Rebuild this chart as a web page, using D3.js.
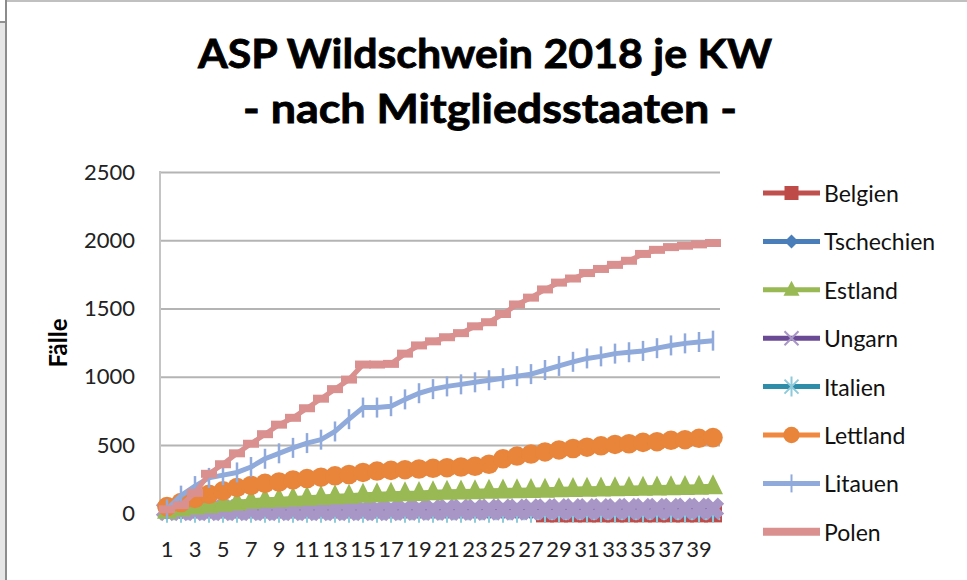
<!DOCTYPE html>
<html>
<head>
<meta charset="utf-8">
<script src="https://cdn.jsdelivr.net/npm/d3@7"></script>
<style>
  body { margin: 0; background: #fff; }
  svg { display: block; }
</style>
</head>
<body>
<script>
// Kalenderwochen 1..40
const weeks = [1,2,3,4,5,6,7,8,9,10,11,12,13,14,15,16,17,18,19,20,
               21,22,23,24,25,26,27,28,29,30,31,32,33,34,35,36,37,38,39,40];
const tickWeeks = [1,3,5,7,9,11,13,15,17,19,21,23,25,27,29,31,33,35,37,39];
const yTicks = [0, 500, 1000, 1500, 2000, 2500];

// kumulierte Fälle je KW
const belgien = [null,null,null,null,null,null,null,null,null,null,
                 null,null,null,null,null,null,null,null,null,null,
                 null,null,null,null,null,null,null,0,0,0,
                 0,0,0,0,0,0,0,0,0,0];
const tschechien = [2,2,3,3,3,3,3,3,3,3,3,3,3,3,3,3,3,3,3,3,
                    3,3,3,3,3,3,3,3,3,3,3,3,3,3,3,3,3,3,3,3];
const estland = [20,35,50,60,70,80,92,100,104,110,114,120,126,130,136,140,144,148,150,155,
                 158,160,162,165,168,170,172,174,176,178,180,182,184,186,188,190,192,194,196,198];
const ungarn = [25,25,25,25,25,25,25,25,25,25,25,25,25,25,25,25,25,26,26,26,
                27,27,27,28,28,28,29,29,30,30,30,31,31,32,32,33,33,34,34,35];
const italien = [5,5,5,5,5,5,5,5,5,5,5,5,5,5,5,5,5,5,5,5,
                 5,5,5,5,5,5,5,5,5,5,5,5,5,5,5,5,5,5,5,5];
const lettland = [50,80,110,140,165,190,205,220,230,245,255,265,275,285,300,310,315,320,325,330,
                  335,340,345,360,400,420,435,450,465,475,485,495,505,510,520,525,535,540,550,555];
const litauen = [30,130,200,260,280,300,340,400,440,480,515,540,600,690,775,775,785,835,880,910,
                 930,945,960,975,990,1005,1020,1050,1080,1110,1135,1150,1170,1180,1190,1210,1230,1245,1255,1265];
const polen = [30,60,150,290,360,440,510,580,650,700,770,840,910,980,1090,1090,1095,1170,1230,1260,
               1290,1320,1370,1400,1460,1530,1580,1640,1690,1720,1760,1790,1820,1850,1900,1930,1950,1960,1970,1980];

// z = Zeichenreihenfolge im Plot
const series = [
  {name: "Belgien",    values: belgien,    line: "#C0504D", marker: "square",   mcol: "#BE4B48", z: 0},
  {name: "Tschechien", values: tschechien, line: "#4A7EBB", marker: "diamond",  mcol: "#4A7EBB", z: 1},
  {name: "Estland",    values: estland,    line: "#98B954", marker: "triangle", mcol: "#98B954", z: 4},
  {name: "Ungarn",     values: ungarn,     line: "#6B4A95", marker: "x",        mcol: "#A897C6", z: 3},
  {name: "Italien",    values: italien,    line: "#2E8EAA", marker: "star",     mcol: "#8FCADB", z: 2},
  {name: "Lettland",   values: lettland,   line: "#F0883E", marker: "circle",   mcol: "#E8853A", z: 5},
  {name: "Litauen",    values: litauen,    line: "#8FAADB", marker: "plus",     mcol: "#8FAADB", z: 6},
  {name: "Polen",      values: polen,      line: "#D9908F", marker: "dash",     mcol: "#D9908F", z: 7}
];

const W = 967, H = 580;
const plot = {left: 160, right: 720, top: 172, bottom: 513.4};

const svg = d3.select("body").append("svg")
    .attr("width", W)
    .attr("height", H);

// Rahmen links/oben wie im Screenshot
svg.append("rect").attr("x", 0).attr("y", 23).attr("width", 5).attr("height", H - 23).attr("fill", "#e6e6e6");
svg.append("rect").attr("x", 0).attr("y", 21).attr("width", 5).attr("height", 2).attr("fill", "#909090");
svg.append("rect").attr("x", 5).attr("y", 0).attr("width", 2).attr("height", H).attr("fill", "#8c8c8c");
svg.append("rect").attr("x", 7).attr("y", 0).attr("width", W - 7).attr("height", 2).attr("fill", "#c0c0c0");

const x = d3.scaleBand().domain(weeks).range([plot.left, plot.right]);
const cx = d => x(d) + x.bandwidth() / 2;
const y = d3.scaleLinear().domain([0, 2500]).range([plot.bottom, plot.top]);

// Titel
const title = svg.append("g")
    .attr("font-family", "Lato, 'Open Sans', sans-serif")
    .attr("font-weight", "bold")
    .attr("font-size", 40)
    .attr("fill", "#000")
    .attr("stroke", "#000")
    .attr("stroke-width", 0.8)
    .attr("text-anchor", "middle");
title.append("text").attr("x", 485).attr("y", 68)
    .attr("textLength", 574).attr("lengthAdjust", "spacingAndGlyphs")
    .text("ASP Wildschwein 2018 je KW");
title.append("text").attr("x", 490).attr("y", 123)
    .attr("textLength", 494).attr("lengthAdjust", "spacingAndGlyphs")
    .text("- nach Mitgliedsstaaten -");

// Gitterlinien + y-Achse
const yAxis = svg.append("g")
    .attr("transform", `translate(${plot.left},0)`)
    .call(d3.axisLeft(y).tickValues(yTicks).tickFormat(d3.format("d"))
      .tickSize(-(plot.right - plot.left)).tickPadding(25));
yAxis.select(".domain").remove();
yAxis.selectAll(".tick line").attr("stroke", "#b4b4b4").attr("stroke-width", 2);
yAxis.selectAll(".tick text")
    .attr("font-family", "Lato, sans-serif")
    .attr("font-size", 22)
    .attr("fill", "#222");

svg.append("line")
    .attr("x1", plot.left).attr("x2", plot.left)
    .attr("y1", plot.top - 1).attr("y2", plot.bottom)
    .attr("stroke", "#c4c4c4").attr("stroke-width", 2);

// x-Achse
const xAxis = svg.append("g")
    .attr("transform", `translate(0,${plot.bottom})`)
    .call(d3.axisBottom(x).tickValues(tickWeeks).tickSize(0).tickPadding(28));
xAxis.select(".domain").remove();
xAxis.selectAll(".tick text")
    .attr("font-family", "Lato, sans-serif")
    .attr("font-size", 22)
    .attr("fill", "#222");

// Achsentitel
svg.append("text")
    .attr("transform", "translate(57,343) rotate(-90)")
    .attr("text-anchor", "middle")
    .attr("dominant-baseline", "central")
    .attr("font-family", "Lato, sans-serif")
    .attr("font-weight", "bold")
    .attr("font-size", 24)
    .text("Fälle");

// Markerformen (Plot)
function markerPath(type) {
  switch (type) {
    case "square":   return "M-9,-9H9V9H-9Z";
    case "diamond":  return "M0,-7L7,0L0,7L-7,0Z";
    case "triangle": return "M0,-12L10,8H-10Z";
    case "circle":   return d3.symbol(d3.symbolCircle, 300)();
    case "x":        return "M-8,-8L8,8M-8,8L8,-8";
    case "star":     return "M-7,-7L7,7M-7,7L7,-7M0,-10V10";
    case "plus":     return "M0,-10V10";
    case "dash":     return "M-8,-4H8V4H-8Z";
  }
}
// Markerformen (Legende)
function legendPath(type) {
  switch (type) {
    case "square":   return "M-7,-7H7V7H-7Z";
    case "diamond":  return "M0,-7L7,0L0,7L-7,0Z";
    case "triangle": return "M0,-9L8,6H-8Z";
    case "circle":   return d3.symbol(d3.symbolCircle, 210)();
    case "x":        return "M-7,-7L7,7M-7,7L7,-7";
    case "star":     return "M-7,-7L7,7M-7,7L7,-7M0,-10V10";
    case "plus":     return "M0,-9V9";
    case "dash":     return null;
  }
}
const strokeMarkers = {x: 9, star: 2, plus: 2.5};

const line = d3.line()
    .defined(d => d.v != null)
    .x(d => cx(d.w))
    .y(d => y(d.v));

const layer = svg.append("g");
series.slice().sort((a, b) => a.z - b.z).forEach(s => {
  const pts = weeks.map((w, i) => ({w: w, v: s.values[i]}));
  const g = layer.append("g");
  g.append("path")
      .datum(pts)
      .attr("fill", "none")
      .attr("stroke", s.line)
      .attr("stroke-width", 5)
      .attr("stroke-linejoin", "round")
      .attr("d", line);
  const sw = strokeMarkers[s.marker];
  g.selectAll("path.m")
    .data(pts.filter(d => d.v != null))
    .join("path")
      .attr("class", "m")
      .attr("transform", d => `translate(${cx(d.w)},${y(d.v)})`)
      .attr("d", markerPath(s.marker))
      .attr("fill", sw ? "none" : s.mcol)
      .attr("stroke", s.mcol)
      .attr("stroke-width", sw || 0);
});

// Legende
const legend = svg.append("g").attr("transform", "translate(763,193)");
const item = legend.selectAll("g")
  .data(series)
  .join("g")
    .attr("transform", (d, i) => `translate(0,${i * 48.4})`);
item.append("line")
    .attr("x1", 0).attr("x2", 57)
    .attr("stroke", d => d.line)
    .attr("stroke-width", d => d.marker === "dash" ? 8 : 5);
item.append("path")
    .attr("transform", "translate(28.5,0)")
    .attr("d", d => legendPath(d.marker))
    .attr("fill", d => strokeMarkers[d.marker] ? "none" : d.mcol)
    .attr("stroke", d => d.mcol)
    .attr("stroke-width", d => strokeMarkers[d.marker] ? 2 : 0);
item.append("text")
    .attr("x", 61)
    .attr("dominant-baseline", "central")
    .attr("font-family", "Lato, sans-serif")
    .attr("font-size", 23)
    .attr("fill", "#111")
    .text(d => d.name);
</script>
</body>
</html>
